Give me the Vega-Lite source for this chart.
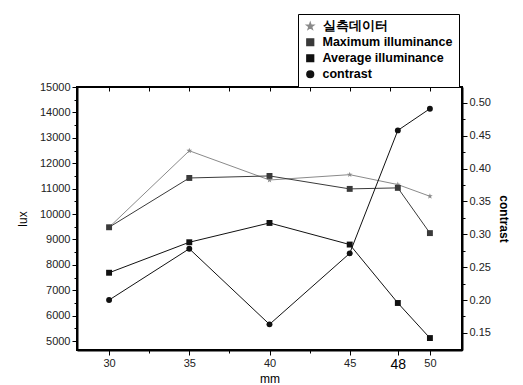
{
  "$schema": "https://vega.github.io/schema/vega-lite/v6.json",
  "autosize": "none",
  "padding": {"left": 77, "top": 87, "right": 61, "bottom": 35},
  "width": 385,
  "height": 263,
  "background": "white",
  "config": {
    "font": "Liberation Sans",
    "view": {"stroke": "black", "strokeWidth": 2},
    "axis": {"grid": false, "domainColor": "black", "domainWidth": 2, "tickColor": "black", "labelColor": "#222", "labelFontSize": 11, "titleFontSize": 12, "titleFontWeight": "normal", "titleColor": "black"}
  },
  "data": {
    "values": [
      {"mm": 30, "series": "실측데이터", "value": 9480},
      {"mm": 35, "series": "실측데이터", "value": 12490},
      {"mm": 40, "series": "실측데이터", "value": 11340},
      {"mm": 45, "series": "실측데이터", "value": 11550},
      {"mm": 48, "series": "실측데이터", "value": 11160},
      {"mm": 50, "series": "실측데이터", "value": 10700},
      {"mm": 30, "series": "Maximum illuminance", "value": 9480},
      {"mm": 35, "series": "Maximum illuminance", "value": 11420},
      {"mm": 40, "series": "Maximum illuminance", "value": 11500},
      {"mm": 45, "series": "Maximum illuminance", "value": 10990},
      {"mm": 48, "series": "Maximum illuminance", "value": 11030},
      {"mm": 50, "series": "Maximum illuminance", "value": 9250},
      {"mm": 30, "series": "Average illuminance", "value": 7690},
      {"mm": 35, "series": "Average illuminance", "value": 8890},
      {"mm": 40, "series": "Average illuminance", "value": 9650},
      {"mm": 45, "series": "Average illuminance", "value": 8800},
      {"mm": 48, "series": "Average illuminance", "value": 6500},
      {"mm": 50, "series": "Average illuminance", "value": 5120},
      {"mm": 30, "series": "contrast", "value": 0.200},
      {"mm": 35, "series": "contrast", "value": 0.278},
      {"mm": 40, "series": "contrast", "value": 0.163},
      {"mm": 45, "series": "contrast", "value": 0.271},
      {"mm": 48, "series": "contrast", "value": 0.458},
      {"mm": 50, "series": "contrast", "value": 0.491}
    ]
  },
  "encoding": {
    "x": {"field": "mm", "type": "quantitative", "scale": {"domain": [28, 52], "nice": false, "zero": false}},
    "color": {
      "field": "series", "type": "nominal",
      "scale": {"domain": ["실측데이터", "Maximum illuminance", "Average illuminance", "contrast"], "range": ["#8a8a8a", "#3a3a3a", "#111111", "#111111"]},
      "legend": {"title": null, "orient": "none", "legendX": 221, "legendY": -73, "strokeColor": "black", "fillColor": "white", "padding": 6, "labelFontSize": 12.5, "labelFontWeight": "bold", "labelColor": "black", "symbolSize": 45, "rowPadding": 2, "labelOffset": 6, "labelLimit": 300}
    },
    "shape": {
      "field": "series", "type": "nominal",
      "scale": {"domain": ["실측데이터", "Maximum illuminance", "Average illuminance", "contrast"], "range": ["M0,-1L0.24,-0.31L0.95,-0.31L0.38,0.12L0.59,0.81L0,0.4L-0.59,0.81L-0.38,0.12L-0.95,-0.31L-0.24,-0.31Z", "square", "square", "circle"]},
      "legend": {"title": null, "orient": "none", "legendX": 221, "legendY": -73}
    }
  },
  "layer": [
    {
      "transform": [{"filter": "datum.series != 'contrast'"}],
      "mark": {"type": "line", "strokeWidth": 1, "point": {"filled": true, "size": 35}},
      "encoding": {
        "x": {"field": "mm", "type": "quantitative", "title": "mm",
          "axis": {"orient": "bottom", "values": [30, 32.5, 35, 37.5, 40, 42.5, 45, 48, 50], "titlePadding": 2,
            "labelExpr": "datum.value % 5 == 0 || datum.value == 48 ? datum.label : ''",
            "labelFontSize": {"condition": {"test": "datum.value == 48", "value": 14}, "value": 11},
            "labelColor": {"condition": {"test": "datum.value == 48", "value": "black"}, "value": "#222"},
            "tickSize": {"condition": {"test": "datum.value % 5 == 0 || datum.value == 48", "value": 5}, "value": 3}}},
        "y": {"field": "value", "type": "quantitative", "title": "lux",
          "scale": {"domain": [4650, 15000], "nice": false, "zero": false},
          "axis": {"orient": "left", "values": [5000, 5500, 6000, 6500, 7000, 7500, 8000, 8500, 9000, 9500, 10000, 10500, 11000, 11500, 12000, 12500, 13000, 13500, 14000, 14500, 15000],
            "labelExpr": "datum.value % 1000 == 0 ? datum.label : ''", "format": "d", "titlePadding": 10,
            "tickSize": {"condition": {"test": "datum.value % 1000 == 0", "value": 5}, "value": 3}}}
      }
    },
    {
      "transform": [{"filter": "datum.series == 'contrast'"}],
      "mark": {"type": "line", "strokeWidth": 1, "point": {"filled": true, "size": 35}},
      "encoding": {
        "x": {"field": "mm", "type": "quantitative",
          "axis": {"orient": "top", "title": null, "labels": false, "values": [30, 32.5, 35, 37.5, 40, 42.5, 45, 47.5, 50], "tickSize": -4, "tickWidth": 1, "domain": false, "zindex": 1}},
        "y": {"field": "value", "type": "quantitative", "title": "contrast",
          "scale": {"domain": [0.124, 0.524], "nice": false, "zero": false},
          "axis": {"orient": "right", "values": [0.15, 0.175, 0.2, 0.225, 0.25, 0.275, 0.3, 0.325, 0.35, 0.375, 0.4, 0.425, 0.45, 0.475, 0.5],
            "labelExpr": "abs(datum.value * 20 - round(datum.value * 20)) < 0.001 ? format(datum.value, '.2f') : ''",
            "titleFontWeight": "bold", "titlePadding": 6,
            "tickSize": {"condition": {"test": "abs(datum.value * 20 - round(datum.value * 20)) < 0.001", "value": 5}, "value": 3}}}
      }
    }
  ],
  "resolve": {"scale": {"y": "independent"}, "axis": {"x": "independent", "y": "independent"}}
}
